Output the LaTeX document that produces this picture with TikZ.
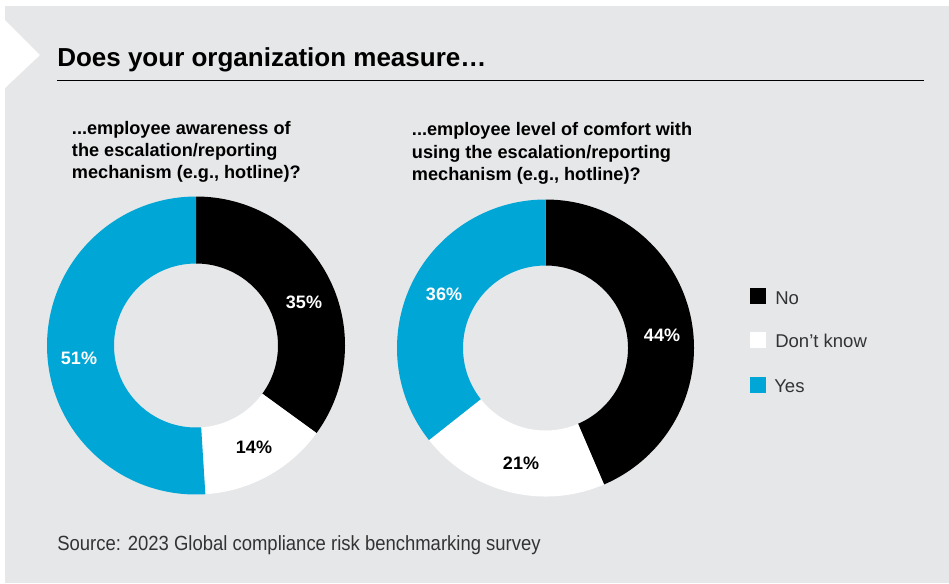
\documentclass[tikz,border=0pt]{standalone}
\usepackage{fontspec}
\setmainfont{Liberation Sans}
\newfontfamily\srcfont[FakeStretch=0.9]{Liberation Sans}
\definecolor{panelgrey}{RGB}{230,231,233}
\definecolor{kblue}{RGB}{0,166,214}
\definecolor{legendgrey}{RGB}{51,51,51}
\tikzset{
  pct/.style={inner sep=0pt, font=\bfseries\fontsize{13.5}{16}\selectfont},
  subtitle/.style={anchor=north west, inner sep=0pt, align=left, font=\bfseries\fontsize{13.6}{16.7}\selectfont},
  legkey/.style={inner sep=0pt, minimum size=12pt},
  legtext/.style={anchor=base west, inner sep=0pt, text=legendgrey, font=\fontsize{13.9}{16}\selectfont}
}
\begin{document}
\begin{tikzpicture}[x=0.75pt,y=0.75pt,yscale=-1,xscale=1]
        \useasboundingbox (0,0) rectangle (949,583);
        
        %Shape: Rectangle [panel]
        \fill [panelgrey] (5,6) rectangle (949,583);
        %Shape: Triangle [notch]
        \fill [white] (5,20) -- (40,55) -- (5,88) -- cycle;
        
        % Text Node
        \node [anchor=base west, inner sep=0pt, font=\bfseries\fontsize{19.5}{23}\selectfont] (title) at (57,66.7) {Does your organization measure…};
        %Straight Lines [rule]
        \draw [line width=1pt] (57,80.7) -- (924,80.7);
        
        % Text Node
        \node [subtitle] (sub1) at (71.7,121) {...employee awareness of\\the escalation/reporting\\mechanism (e.g., hotline)?};
        % Text Node
        \node [subtitle] (sub2) at (411.7,122.5) {...employee level of comfort with\\using the escalation/reporting\\mechanism (e.g., hotline)?};
        
        %Shape: Donut [awareness]
        \coordinate (c1) at (196,345.5);
        \fill [black] ([shift={(-90:149)}]c1) arc [start angle=-90, end angle=36, radius=149] -- ([shift={(36:82)}]c1) arc [start angle=36, end angle=-90, radius=82] -- cycle;
        \fill [white] ([shift={(36:149)}]c1) arc [start angle=36, end angle=86.4, radius=149] -- ([shift={(86.4:82)}]c1) arc [start angle=86.4, end angle=36, radius=82] -- cycle;
        \fill [kblue] ([shift={(86.4:149)}]c1) arc [start angle=86.4, end angle=270, radius=149] -- ([shift={(270:82)}]c1) arc [start angle=270, end angle=86.4, radius=82] -- cycle;
        
        %Shape: Donut [comfort]
        \coordinate (c2) at (545.5,348);
        \fill [black] ([shift={(-90:148.5)}]c2) arc [start angle=-90, end angle=66.8, radius=148.5] -- ([shift={(66.8:82.5)}]c2) arc [start angle=66.8, end angle=-90, radius=82.5] -- cycle;
        \fill [white] ([shift={(66.8:148.5)}]c2) arc [start angle=66.8, end angle=141.7, radius=148.5] -- ([shift={(141.7:82.5)}]c2) arc [start angle=141.7, end angle=66.8, radius=82.5] -- cycle;
        \fill [kblue] ([shift={(141.7:148.5)}]c2) arc [start angle=141.7, end angle=270, radius=148.5] -- ([shift={(270:82.5)}]c2) arc [start angle=270, end angle=141.7, radius=82.5] -- cycle;
        
        % Text Node
        \node [pct, text=white] (no1) at (304,302) {35\%};
        % Text Node
        \node [pct, text=black] (dk1) at (254,447) {14\%};
        % Text Node
        \node [pct, text=white] (yes1) at (79,358) {51\%};
        % Text Node
        \node [pct, text=white] (no2) at (662,335) {44\%};
        % Text Node
        \node [pct, text=black] (dk2) at (521,463) {21\%};
        % Text Node
        \node [pct, text=white] (yes2) at (444,294) {36\%};
        
        %Shape: Square [legend]
        \node [legkey, fill=black] (keyno) at (758,296.2) {};
        \node [legkey, fill=white] (keydk) at (758,340) {};
        \node [legkey, fill=kblue] (keyyes) at (758,385) {};
        % Text Node
        \node [legtext] (labno) at (775,304) {No};
        % Text Node
        \node [legtext] (labdk) at (775,347.8) {Don’t know};
        % Text Node
        \node [legtext] (labyes) at (774,392.8) {Yes};
        
        % Text Node
        \node [anchor=base west, inner sep=0pt, text=legendgrey, font=\srcfont\fontsize{15.4}{18}\selectfont] (source) at (57,550.7) {Source: 2023 Global compliance risk benchmarking survey};
\end{tikzpicture}
\end{document}
